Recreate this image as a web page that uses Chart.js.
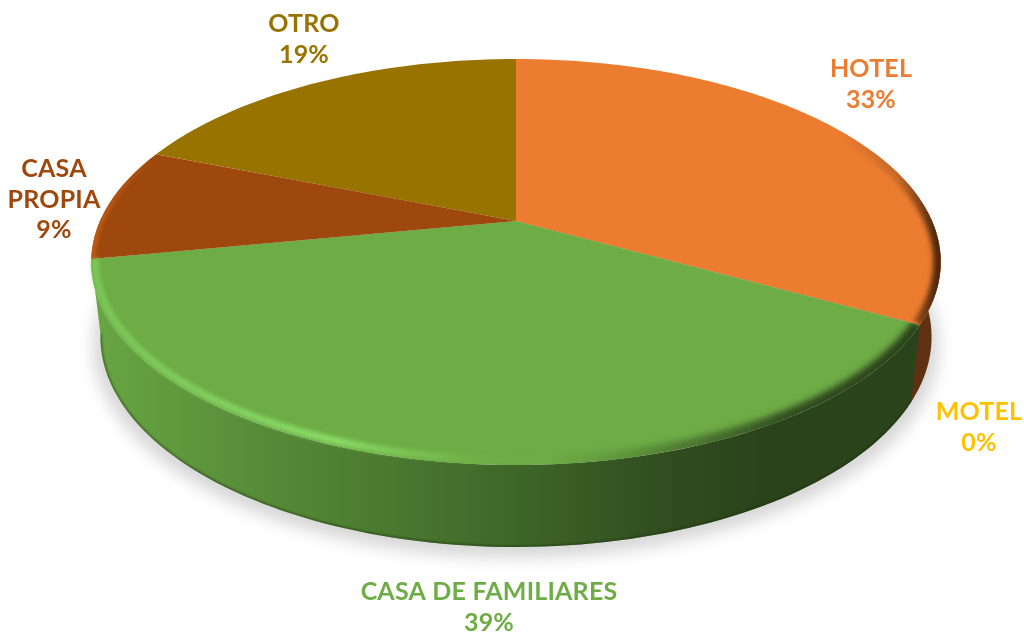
<!DOCTYPE html>
<html>
<head>
<meta charset="utf-8">
<title>Pie</title>
<script src="https://cdn.jsdelivr.net/npm/chart.js@4"></script>
<style>
  html, body { margin: 0; padding: 0; background: #fff; }
  #wrap { width: 1024px; height: 635px; }
</style>
</head>
<body>
<div id="wrap"><canvas id="pieChart" width="1024" height="635"></canvas></div>
<script>
const categories = ['HOTEL', 'MOTEL', 'CASA DE FAMILIARES', 'CASA PROPIA', 'OTRO'];
const values = [33, 0, 39, 9, 19];
const colors = ['#eb7c30', '#ffc000', '#6eac46', '#9e480e', '#997300'];

// where each label goes: centre x, first baseline, and how its name wraps
const labelSpots = [
  { x: 871, y: 77, lines: ['HOTEL'] },
  { x: 979, y: 420, lines: ['MOTEL'] },
  { x: 489, y: 600, lines: ['CASA DE FAMILIARES'] },
  { x: 54, y: 177, lines: ['CASA', 'PROPIA'] },
  { x: 304, y: 32, lines: ['OTRO'] }
];

// the 3D look: circle -> perspective ellipse, apex stays off the ellipse centre
const K = -0.202;
const topFace = { cx: 516, cy: 221, a: 416, b: 194.7 };
const insetFace = { cx: 516, cy: 221, a: 412, b: 190.5 };
const bottomFace = { cx: 516, cy: 294.6, a: 407, b: 201.4 };
const shadowFace = { cx: 516, cy: 302, a: 414, b: 204 };

function project(face, angle) {
  const x = Math.cos(angle), y = Math.sin(angle);
  const d = 1 + K * y;
  return [face.cx + face.a * x / d, face.cy + face.b * y / d];
}

function rim(ctx, face, from, to, first) {
  const steps = Math.max(2, Math.ceil(Math.abs(to - from) * 60));
  for (let i = 0; i <= steps; i++) {
    const p = project(face, from + (to - from) * i / steps);
    if (i === 0 && first) ctx.moveTo(p[0], p[1]);
    else ctx.lineTo(p[0], p[1]);
  }
}

// side wall as a row of small quads so the outline follows the tangent too
function wallPath(ctx, from, to) {
  const steps = Math.ceil((to - from) * 40);
  ctx.beginPath();
  for (let i = 0; i < steps; i++) {
    const a0 = from + (to - from) * i / steps;
    const a1 = from + (to - from) * (i + 1) / steps;
    const p0 = project(topFace, a0), p1 = project(topFace, a1);
    const p2 = project(bottomFace, a1), p3 = project(bottomFace, a0);
    ctx.moveTo(p0[0], p0[1]);
    ctx.lineTo(p1[0], p1[1]);
    ctx.lineTo(p2[0], p2[1]);
    ctx.lineTo(p3[0], p3[1]);
    ctx.closePath();
  }
}

function slicePath(ctx, from, to) {
  ctx.beginPath();
  ctx.moveTo(topFace.cx, topFace.cy);
  rim(ctx, topFace, from, to, false);
  ctx.closePath();
}

function hGrad(ctx, x0, x1, stops) {
  const g = ctx.createLinearGradient(x0, 0, x1, 0);
  stops.forEach(s => g.addColorStop(s[0], s[1]));
  return g;
}

function bevel(ctx, face, from, to, style, width, blur, clipped) {
  ctx.save();
  if (clipped) {
    slicePath(ctx, from, to);
    ctx.clip();
  }
  ctx.filter = 'blur(' + blur + 'px)';
  ctx.beginPath();
  rim(ctx, face, from, to, true);
  ctx.strokeStyle = style;
  ctx.lineWidth = width;
  ctx.stroke();
  ctx.restore();
}

const pie3d = {
  id: 'pie3d',
  beforeDatasetDraw() {
    return false; // flat arcs are replaced below, angles still come from the library
  },
  afterDatasetsDraw(chart) {
    const ctx = chart.ctx;
    const arcs = chart.getDatasetMeta(0).data;
    const hotel = arcs[0], green = arcs[2], brown = arcs[3];

    // floor shadow
    ctx.save();
    ctx.filter = 'blur(8px)';
    ctx.fillStyle = 'rgba(0,0,0,0.16)';
    ctx.beginPath();
    rim(ctx, shadowFace, 0, Math.PI * 2, true);
    ctx.closePath();
    ctx.fill();
    ctx.restore();

    // walls
    wallPath(ctx, hotel.startAngle + 1.2, hotel.endAngle + 0.01);
    ctx.fillStyle = '#5f3112';
    ctx.fill('nonzero');

    wallPath(ctx, green.startAngle, green.endAngle);
    ctx.fillStyle = hGrad(ctx, 90, 930, [
      [0, '#69a644'], [0.2, '#578c38'], [0.3, '#4e8032'], [0.5, '#3f6729'],
      [0.68, '#304e1f'], [0.8, '#2b431b'], [1, '#2b431b']
    ]);
    ctx.fill('nonzero');

    // darker foot of the wall
    ctx.save();
    wallPath(ctx, green.startAngle, green.endAngle);
    ctx.clip();
    ctx.filter = 'blur(1px)';
    ctx.beginPath();
    rim(ctx, bottomFace, green.startAngle, green.endAngle, true);
    ctx.strokeStyle = 'rgba(25,45,12,0.5)';
    ctx.lineWidth = 3;
    ctx.stroke();
    ctx.restore();

    // top faces
    arcs.forEach((arc, i) => {
      if (!values[i]) return;
      slicePath(ctx, arc.startAngle, arc.endAngle);
      ctx.fillStyle = colors[i];
      ctx.fill();
    });

    // rim bevels
    bevel(ctx, topFace, hotel.startAngle, hotel.endAngle,
      hGrad(ctx, 840, 935, [[0, 'rgba(95,49,18,0)'], [0.6, 'rgba(95,49,18,0.25)'], [1, 'rgba(80,40,14,1)']]), 15, 2.5, true);
    // dark side of the green rim
    bevel(ctx, topFace, green.startAngle, green.endAngle,
      hGrad(ctx, 90, 915, [
        [0, 'rgba(106,170,70,0)'], [0.56, 'rgba(43,67,27,0)'], [0.64, 'rgba(43,67,27,0.2)'],
        [0.85, 'rgba(43,67,27,0.9)'], [1, 'rgba(43,67,27,1)']
      ]), 17, 3, true);
    // light side, soft on both sides of the edge
    bevel(ctx, insetFace, green.startAngle, green.endAngle,
      hGrad(ctx, 90, 915, [
        [0, 'rgba(125,205,90,0.85)'], [0.12, 'rgba(130,212,95,0.9)'], [0.3, 'rgba(140,222,105,1)'],
        [0.42, 'rgba(125,200,85,0.6)'], [0.54, 'rgba(110,170,70,0)'], [1, 'rgba(110,170,70,0)']
      ]), 7, 2.2, false);
    bevel(ctx, topFace, brown.startAngle, brown.endAngle,
      hGrad(ctx, 90, 160, [[0, 'rgba(190,90,20,1)'], [1, 'rgba(190,90,20,0)']]), 9, 1.5, true);

    // labels
    ctx.save();
    ctx.font = 'bold 25px Lato';
    ctx.letterSpacing = '0.2px';
    ctx.textAlign = 'center';
    ctx.textBaseline = 'alphabetic';
    labelSpots.forEach((spot, i) => {
      ctx.fillStyle = colors[i];
      const lines = spot.lines.concat([values[i] + '%']);
      lines.forEach((txt, n) => ctx.fillText(txt, spot.x, spot.y + n * 30.7));
    });
    ctx.restore();
  }
};

new Chart(document.getElementById('pieChart').getContext('2d'), {
  type: 'pie',
  data: {
    labels: categories,
    datasets: [{ data: values, backgroundColor: colors, borderWidth: 0 }]
  },
  options: {
    responsive: false,
    animation: false,
    plugins: { legend: { display: false }, tooltip: { enabled: false } }
  },
  plugins: [pie3d]
});
</script>
</body>
</html>
